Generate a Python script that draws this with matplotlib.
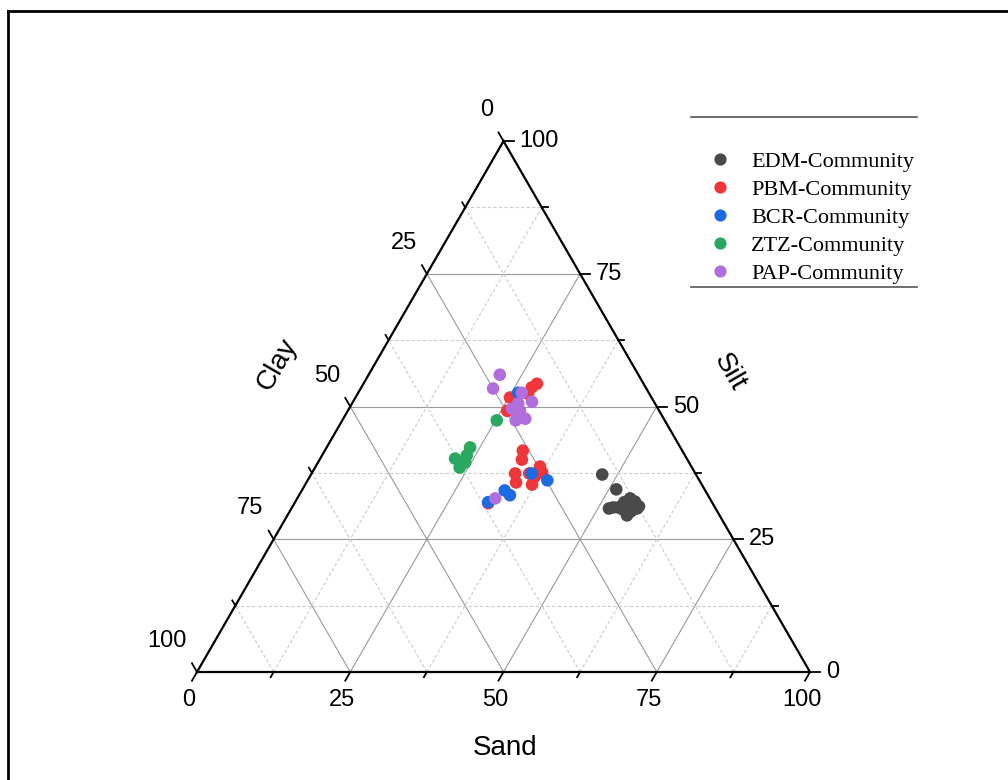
import numpy as np
import matplotlib
matplotlib.use("Agg")
import matplotlib.pyplot as plt
from matplotlib.lines import Line2D

# ---------------- data (Sand, Silt, Clay in %) ----------------
edm_sand = [47.5, 51.2, 51.8, 53.2, 53.7, 54.3, 55.4, 56.4, 55.7, 55.4, 54.2, 56.5, 52.4]
edm_silt = [37.2, 34.4, 30.8, 31.0, 32.0, 32.7, 32.1, 30.8, 30.3, 29.5, 30.6, 31.2, 31.0]

pbm_sand = [28.3, 27.8, 27.8, 25.2, 26.0, 32.3, 33.0, 33.2, 34.2, 35.5, 36.6, 37.5, 36.7, 37.0, 31.6]
pbm_silt = [54.3, 53.6, 52.4, 51.7, 49.2, 41.7, 40.0, 37.4, 35.7, 37.4, 38.7, 37.6, 36.8, 35.3, 31.8]

bcr_sand = [26.1, 35.9, 39.1, 33.1, 34.4, 31.5]
bcr_silt = [52.6, 37.4, 36.1, 34.2, 33.3, 32.0]

ztz_sand = [23.4, 23.6, 22.0, 23.6, 24.0, 25.2]
ztz_silt = [42.3, 40.8, 40.2, 38.5, 39.5, 47.4]

pap_sand = [21.4, 21.6, 26.7, 29.2, 27.1, 26.6, 28.1, 29.7, 28.3, 28.0, 32.3]
pap_silt = [56.0, 53.4, 52.6, 50.9, 50.6, 49.6, 49.2, 47.7, 47.4, 48.5, 32.7]

series_names = ["EDM-Community", "PBM-Community", "BCR-Community", "ZTZ-Community", "PAP-Community"]
series_colors = ["#4a4a4a", "#f0353b", "#1c6be0", "#2aa862", "#b06fdc"]

major_ticks = [0, 25, 50, 75, 100]
minor_ticks = [12.5, 37.5, 62.5, 87.5]

# ---------------- figure ----------------
W, H = 1008, 780
fig = plt.figure(figsize=(W / 100, H / 100), dpi=100)
ax = fig.add_axes([0, 0, 1, 1])
ax.set_axis_off()

S = 6.13            # pixels per unit
x0_px, y0_px = 197, 672   # bottom-left vertex in pixels (from top)
ax.set_xlim(-x0_px / S, (W - x0_px) / S)
ax.set_ylim(-(H - y0_px) / S, y0_px / S)

h = np.sqrt(3) / 2


def tern(sand, silt):
    sand = np.asarray(sand, float)
    silt = np.asarray(silt, float)
    return sand + silt / 2.0, silt * h


# grid lines
for v in major_ticks[1:-1] + minor_ticks:
    if v in major_ticks:
        kw = dict(color="#9a9a9a", lw=0.8, ls="-", zorder=1)
    else:
        kw = dict(color="#cccccc", lw=0.8, ls=(0, (3, 2)), zorder=1)
    xs, ys = tern([0, 100 - v], [v, v])          # silt constant
    ax.plot(xs, ys, **kw)
    xs, ys = tern([v, v], [0, 100 - v])          # sand constant
    ax.plot(xs, ys, **kw)
    xs, ys = tern([100 - v, 0], [0, 100 - v])    # clay constant
    ax.plot(xs, ys, **kw)

# triangle
xs, ys = tern([0, 100, 0, 0], [0, 0, 100, 0])
ax.plot(xs, ys, color="black", lw=1.6, zorder=3, solid_joinstyle="miter")

# ticks
L_major, L_minor = 10 / S, 6 / S
for v in major_ticks + minor_ticks:
    L = L_major if v in major_ticks else L_minor
    bx, by = tern(v, 0)
    ax.plot([bx, bx - 0.5 * L], [by, by - h * L], color="black", lw=1.3, zorder=3)
    rx, ry = tern(100 - v, v)
    ax.plot([rx, rx + L], [ry, ry], color="black", lw=1.3, zorder=3)
    lx, ly = tern(0, 100 - v)
    ax.plot([lx, lx - 0.5 * L], [ly, ly + h * L], color="black", lw=1.3, zorder=3)

tick_font = dict(family="Liberation Sans", size=17)
for v in major_ticks:
    bx, by = tern(v, 0)
    ax.annotate(f"{v}", (bx, by), xytext=(-8, -28), textcoords="offset pixels",
                ha="center", va="center", **tick_font)
    rx, ry = tern(100 - v, v)
    ax.annotate(f"{v}", (rx, ry), xytext=(16, 0), textcoords="offset pixels",
                ha="left", va="center", **tick_font)
    lx, ly = tern(0, 100 - v)
    ax.annotate(f"{v}", (lx, ly), xytext=(-10, 31), textcoords="offset pixels",
                ha="right", va="center", **tick_font)

title_font = dict(family="Liberation Sans", size=20)
ax.text((505 - x0_px) / S, (y0_px - 748) / S, "Sand", ha="center", va="center", **title_font)
ax.text((277 - x0_px) / S, (y0_px - 364) / S, "Clay", rotation=60,
        ha="center", va="center", **title_font)
ax.text((729 - x0_px) / S, (y0_px - 372) / S, "Silt", rotation=-60,
        ha="center", va="center", **title_font)

# points
all_sand = [edm_sand, pbm_sand, bcr_sand, ztz_sand, pap_sand]
all_silt = [edm_silt, pbm_silt, bcr_silt, ztz_silt, pap_silt]
for sd, sl, name, col in zip(all_sand, all_silt, series_names, series_colors):
    x, y = tern(sd, sl)
    ax.scatter(x, y, s=82, color=col, edgecolors="none", label=name, zorder=4)

# legend
handles = [Line2D([], [], ls="none", marker="o", ms=8.8, color=c, mec="none")
           for c in series_colors]
leg = ax.legend(handles, series_names, loc="upper left",
                bbox_to_anchor=(709 / W, 1 - 151 / H), bbox_transform=fig.transFigure,
                frameon=False, prop=dict(family="Liberation Serif", size=16),
                handlelength=1.0, handletextpad=0.9, labelspacing=0.34,
                borderpad=0, borderaxespad=0)

for yy in (117, 287):
    fig.add_artist(Line2D([691 / W, 917 / W], [1 - yy / H, 1 - yy / H],
                          transform=fig.transFigure, color="#555555", lw=1.2))

# outer border (left and top only)
fig.add_artist(Line2D([8 / W, 8 / W], [0, 1 - 11 / H], transform=fig.transFigure,
                      color="black", lw=2.0))
fig.add_artist(Line2D([8 / W, 1.0], [1 - 11 / H, 1 - 11 / H], transform=fig.transFigure,
                      color="black", lw=2.0))

fig.savefig("out.png", dpi=100)
